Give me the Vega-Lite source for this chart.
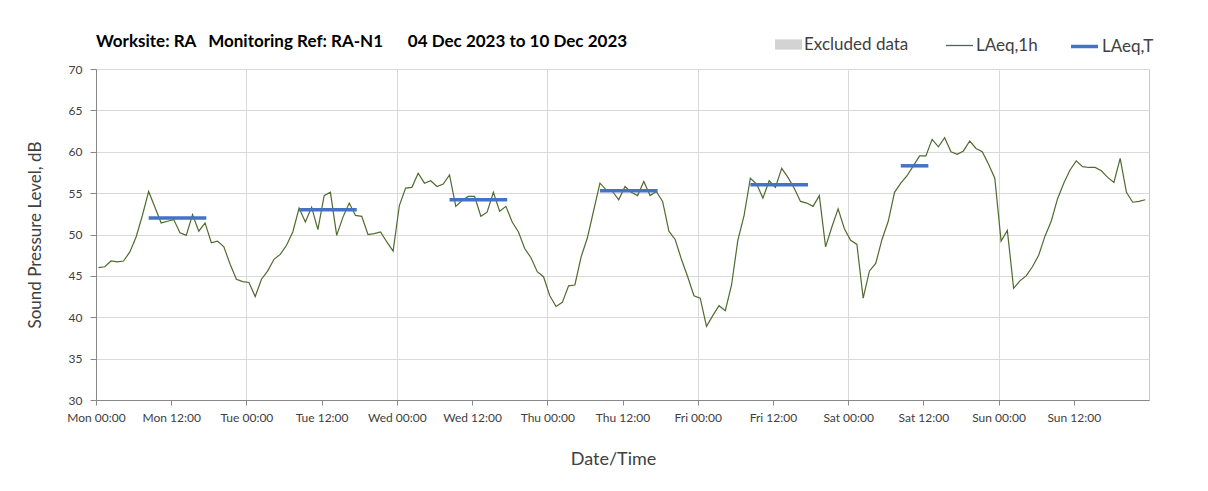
{
  "$schema": "https://vega.github.io/schema/vega-lite/v6.json",
  "width": 1053,
  "height": 331,
  "autosize": "none",
  "padding": {"left": 96, "top": 69, "right": 59, "bottom": 91},
  "background": "white",
  "config": {"font": "Lato", "view": {"stroke": "#c8c8c8"}},
  "title": {
    "text": "Worksite: RA\u00a0\u00a0\u00a0Monitoring Ref: RA-N1\u00a0\u00a0\u00a0\u00a0\u00a0 04 Dec 2023 to 10 Dec 2023",
    "anchor": "start",
    "frame": "group",
    "offset": 20,
    "dy": 40,
    "fontSize": 17,
    "fontWeight": "bold",
    "color": "#000000"
  },
  "datasets": {
    "hourly": [
      {"t":"2023-12-04T00:24","v":46.0},{"t":"2023-12-04T01:24","v":46.1},{"t":"2023-12-04T02:24","v":46.8},{"t":"2023-12-04T03:24","v":46.7},{"t":"2023-12-04T04:24","v":46.8},{"t":"2023-12-04T05:24","v":47.9},{"t":"2023-12-04T06:24","v":49.7},{"t":"2023-12-04T07:24","v":52.3},{"t":"2023-12-04T08:24","v":55.2},{"t":"2023-12-04T09:24","v":53.3},{"t":"2023-12-04T10:24","v":51.4},{"t":"2023-12-04T11:24","v":51.6},{"t":"2023-12-04T12:24","v":51.8},{"t":"2023-12-04T13:24","v":50.2},{"t":"2023-12-04T14:24","v":49.9},{"t":"2023-12-04T15:24","v":52.4},{"t":"2023-12-04T16:24","v":50.4},{"t":"2023-12-04T17:24","v":51.4},{"t":"2023-12-04T18:24","v":49.0},{"t":"2023-12-04T19:24","v":49.2},{"t":"2023-12-04T20:24","v":48.5},{"t":"2023-12-04T21:24","v":46.4},{"t":"2023-12-04T22:24","v":44.6},{"t":"2023-12-04T23:24","v":44.3},
      {"t":"2023-12-05T00:24","v":44.2},{"t":"2023-12-05T01:24","v":42.5},{"t":"2023-12-05T02:24","v":44.6},{"t":"2023-12-05T03:24","v":45.6},{"t":"2023-12-05T04:24","v":47.0},{"t":"2023-12-05T05:24","v":47.6},{"t":"2023-12-05T06:24","v":48.7},{"t":"2023-12-05T07:24","v":50.3},{"t":"2023-12-05T08:24","v":53.2},{"t":"2023-12-05T09:24","v":51.5},{"t":"2023-12-05T10:24","v":53.3},{"t":"2023-12-05T11:24","v":50.6},{"t":"2023-12-05T12:24","v":54.7},{"t":"2023-12-05T13:24","v":55.1},{"t":"2023-12-05T14:24","v":49.9},{"t":"2023-12-05T15:24","v":52.1},{"t":"2023-12-05T16:24","v":53.8},{"t":"2023-12-05T17:24","v":52.3},{"t":"2023-12-05T18:24","v":52.2},{"t":"2023-12-05T19:24","v":50.0},{"t":"2023-12-05T20:24","v":50.1},{"t":"2023-12-05T21:24","v":50.3},{"t":"2023-12-05T22:24","v":49.1},{"t":"2023-12-05T23:24","v":48.0},
      {"t":"2023-12-06T00:24","v":53.5},{"t":"2023-12-06T01:24","v":55.6},{"t":"2023-12-06T02:24","v":55.7},{"t":"2023-12-06T03:24","v":57.4},{"t":"2023-12-06T04:24","v":56.2},{"t":"2023-12-06T05:24","v":56.5},{"t":"2023-12-06T06:24","v":55.8},{"t":"2023-12-06T07:24","v":56.1},{"t":"2023-12-06T08:24","v":57.2},{"t":"2023-12-06T09:24","v":53.4},{"t":"2023-12-06T10:24","v":54.1},{"t":"2023-12-06T11:24","v":54.6},{"t":"2023-12-06T12:24","v":54.6},{"t":"2023-12-06T13:24","v":52.2},{"t":"2023-12-06T14:24","v":52.7},{"t":"2023-12-06T15:24","v":55.1},{"t":"2023-12-06T16:24","v":52.8},{"t":"2023-12-06T17:24","v":53.4},{"t":"2023-12-06T18:24","v":51.5},{"t":"2023-12-06T19:24","v":50.3},{"t":"2023-12-06T20:24","v":48.3},{"t":"2023-12-06T21:24","v":47.2},{"t":"2023-12-06T22:24","v":45.5},{"t":"2023-12-06T23:24","v":44.9},
      {"t":"2023-12-07T00:24","v":42.6},{"t":"2023-12-07T01:24","v":41.3},{"t":"2023-12-07T02:24","v":41.8},{"t":"2023-12-07T03:24","v":43.8},{"t":"2023-12-07T04:24","v":43.9},{"t":"2023-12-07T05:24","v":47.3},{"t":"2023-12-07T06:24","v":49.6},{"t":"2023-12-07T07:24","v":52.9},{"t":"2023-12-07T08:24","v":56.2},{"t":"2023-12-07T09:24","v":55.4},{"t":"2023-12-07T10:24","v":55.2},{"t":"2023-12-07T11:24","v":54.2},{"t":"2023-12-07T12:24","v":55.8},{"t":"2023-12-07T13:24","v":55.1},{"t":"2023-12-07T14:24","v":54.7},{"t":"2023-12-07T15:24","v":56.4},{"t":"2023-12-07T16:24","v":54.7},{"t":"2023-12-07T17:24","v":55.2},{"t":"2023-12-07T18:24","v":54.0},{"t":"2023-12-07T19:24","v":50.4},{"t":"2023-12-07T20:24","v":49.4},{"t":"2023-12-07T21:24","v":47.0},{"t":"2023-12-07T22:24","v":44.9},{"t":"2023-12-07T23:24","v":42.6},
      {"t":"2023-12-08T00:24","v":42.3},{"t":"2023-12-08T01:24","v":38.9},{"t":"2023-12-08T02:24","v":40.2},{"t":"2023-12-08T03:24","v":41.4},{"t":"2023-12-08T04:24","v":40.8},{"t":"2023-12-08T05:24","v":43.9},{"t":"2023-12-08T06:24","v":49.3},{"t":"2023-12-08T07:24","v":52.3},{"t":"2023-12-08T08:24","v":56.8},{"t":"2023-12-08T09:24","v":56.1},{"t":"2023-12-08T10:24","v":54.4},{"t":"2023-12-08T11:24","v":56.5},{"t":"2023-12-08T12:24","v":55.7},{"t":"2023-12-08T13:24","v":58.0},{"t":"2023-12-08T14:24","v":56.9},{"t":"2023-12-08T15:24","v":55.6},{"t":"2023-12-08T16:24","v":54.0},{"t":"2023-12-08T17:24","v":53.8},{"t":"2023-12-08T18:24","v":53.4},{"t":"2023-12-08T19:24","v":54.7},{"t":"2023-12-08T20:24","v":48.5},{"t":"2023-12-08T21:24","v":50.9},{"t":"2023-12-08T22:24","v":53.1},{"t":"2023-12-08T23:24","v":50.7},
      {"t":"2023-12-09T00:24","v":49.3},{"t":"2023-12-09T01:24","v":48.8},{"t":"2023-12-09T02:24","v":42.3},{"t":"2023-12-09T03:24","v":45.6},{"t":"2023-12-09T04:24","v":46.5},{"t":"2023-12-09T05:24","v":49.4},{"t":"2023-12-09T06:24","v":51.6},{"t":"2023-12-09T07:24","v":55.1},{"t":"2023-12-09T08:24","v":56.2},{"t":"2023-12-09T09:24","v":57.1},{"t":"2023-12-09T10:24","v":58.3},{"t":"2023-12-09T11:24","v":59.5},{"t":"2023-12-09T12:24","v":59.5},{"t":"2023-12-09T13:24","v":61.5},{"t":"2023-12-09T14:24","v":60.6},{"t":"2023-12-09T15:24","v":61.7},{"t":"2023-12-09T16:24","v":60.0},{"t":"2023-12-09T17:24","v":59.7},{"t":"2023-12-09T18:24","v":60.1},{"t":"2023-12-09T19:24","v":61.3},{"t":"2023-12-09T20:24","v":60.4},{"t":"2023-12-09T21:24","v":60.0},{"t":"2023-12-09T22:24","v":58.5},{"t":"2023-12-09T23:24","v":56.8},
      {"t":"2023-12-10T00:24","v":49.2},{"t":"2023-12-10T01:24","v":50.5},{"t":"2023-12-10T02:24","v":43.5},{"t":"2023-12-10T03:24","v":44.4},{"t":"2023-12-10T04:24","v":45.0},{"t":"2023-12-10T05:24","v":46.1},{"t":"2023-12-10T06:24","v":47.5},{"t":"2023-12-10T07:24","v":49.8},{"t":"2023-12-10T08:24","v":51.6},{"t":"2023-12-10T09:24","v":54.3},{"t":"2023-12-10T10:24","v":56.2},{"t":"2023-12-10T11:24","v":57.8},{"t":"2023-12-10T12:24","v":58.9},{"t":"2023-12-10T13:24","v":58.2},{"t":"2023-12-10T14:24","v":58.1},{"t":"2023-12-10T15:24","v":58.1},{"t":"2023-12-10T16:24","v":57.7},{"t":"2023-12-10T17:24","v":56.9},{"t":"2023-12-10T18:24","v":56.3},{"t":"2023-12-10T19:24","v":59.2},{"t":"2023-12-10T20:24","v":55.1},{"t":"2023-12-10T21:24","v":53.9},{"t":"2023-12-10T22:24","v":54.0},{"t":"2023-12-10T23:24","v":54.2}
    ],
    "period": [
      {"s":"2023-12-04T08:24","e":"2023-12-04T17:36","v":52.0},
      {"s":"2023-12-05T08:24","e":"2023-12-05T17:36","v":53.0},
      {"s":"2023-12-06T08:24","e":"2023-12-06T17:36","v":54.2},
      {"s":"2023-12-07T08:24","e":"2023-12-07T17:36","v":55.3},
      {"s":"2023-12-08T08:24","e":"2023-12-08T17:36","v":56.0},
      {"s":"2023-12-09T08:24","e":"2023-12-09T12:48","v":58.3}
    ],
    "excluded": []
  },
  "resolve": {"scale": {"color": "independent"}, "axis": {"x": "independent"}},
  "layer": [
    {
      "data": {"name": "excluded"},
      "mark": {"type": "bar"},
      "encoding": {
        "color": {
          "datum": "Excluded data",
          "scale": {"domain": ["Excluded data"], "range": ["#d3d3d3"]},
          "legend": {
            "orient": "none",
            "legendX": 679,
            "legendY": -38,
            "title": null,
            "labelFontSize": 17,
            "labelColor": "#404040",
            "symbolType": "M-1,-0.38H1V0.38H-1Z",
            "symbolSize": 729,
            "symbolStrokeWidth": 0,
            "symbolFillColor": "#d3d3d3",
            "labelOffset": 2
          }
        }
      }
    },
    {
      "data": {"name": "hourly"},
      "mark": {"type": "line", "strokeWidth": 1.2},
      "encoding": {
        "x": {
          "field": "t",
          "type": "temporal",
          "title": "Date/Time",
          "scale": {"domain": [{"year": 2023, "month": 12, "date": 4}, {"year": 2023, "month": 12, "date": 11}]},
          "axis": {
            "orient": "bottom",
            "values": [
              {"year": 2023, "month": 12, "date": 4, "hours": 0},
              {"year": 2023, "month": 12, "date": 4, "hours": 12},
              {"year": 2023, "month": 12, "date": 5, "hours": 0},
              {"year": 2023, "month": 12, "date": 5, "hours": 12},
              {"year": 2023, "month": 12, "date": 6, "hours": 0},
              {"year": 2023, "month": 12, "date": 6, "hours": 12},
              {"year": 2023, "month": 12, "date": 7, "hours": 0},
              {"year": 2023, "month": 12, "date": 7, "hours": 12},
              {"year": 2023, "month": 12, "date": 8, "hours": 0},
              {"year": 2023, "month": 12, "date": 8, "hours": 12},
              {"year": 2023, "month": 12, "date": 9, "hours": 0},
              {"year": 2023, "month": 12, "date": 9, "hours": 12},
              {"year": 2023, "month": 12, "date": 10, "hours": 0},
              {"year": 2023, "month": 12, "date": 10, "hours": 12}
            ],
            "format": "%a %H:%M",
            "grid": false,
            "labelFlush": false,
            "labelOverlap": false,
            "domainColor": "#888888",
            "tickColor": "#888888",
            "tickSize": 5,
            "labelFontSize": 12,
            "labelColor": "#404040",
            "labelPadding": 7,
            "titleFontSize": 18,
            "titleFontWeight": "normal",
            "titleColor": "#404040",
            "titlePadding": 27,
            "titleX": 517
          }
        },
        "y": {
          "field": "v",
          "type": "quantitative",
          "title": "Sound Pressure Level, dB",
          "scale": {"domain": [30, 70], "nice": false, "zero": false},
          "axis": {
            "values": [30, 35, 40, 45, 50, 55, 60, 65, 70],
            "gridColor": "#d9d9d9",
            "domainColor": "#888888",
            "tickColor": "#888888",
            "tickSize": 6,
            "labelFontSize": 12,
            "labelColor": "#404040",
            "labelPadding": 8,
            "titleFontSize": 17,
            "titleFontWeight": "normal",
            "titleColor": "#404040",
            "titlePadding": 24
          }
        },
        "color": {
          "datum": "LAeq,1h",
          "scale": {"domain": ["LAeq,1h"], "range": ["#4f6b2f"]},
          "legend": {
            "orient": "none",
            "legendX": 849,
            "legendY": -38,
            "title": null,
            "labelFontSize": 17,
            "labelColor": "#404040",
            "symbolType": "stroke",
            "symbolSize": 729,
            "symbolStrokeWidth": 1.3,
            "labelOffset": 2
          }
        }
      }
    },
    {
      "data": {"name": "period"},
      "mark": {"type": "rule", "strokeWidth": 3.5},
      "encoding": {
        "x": {
          "field": "s",
          "type": "temporal",
          "axis": {
            "orient": "bottom",
            "values": [
              {"year": 2023, "month": 12, "date": 5},
              {"year": 2023, "month": 12, "date": 6},
              {"year": 2023, "month": 12, "date": 7},
              {"year": 2023, "month": 12, "date": 8},
              {"year": 2023, "month": 12, "date": 9},
              {"year": 2023, "month": 12, "date": 10}
            ],
            "grid": true,
            "gridColor": "#d9d9d9",
            "labels": false,
            "ticks": false,
            "domain": false,
            "title": null
          }
        },
        "x2": {"field": "e"},
        "y": {"field": "v", "type": "quantitative"},
        "color": {
          "datum": "LAeq,T",
          "scale": {"domain": ["LAeq,T"], "range": ["#4472c4"]},
          "legend": {
            "orient": "none",
            "legendX": 973,
            "legendY": -38,
            "title": null,
            "labelFontSize": 17,
            "labelColor": "#404040",
            "symbolType": "stroke",
            "symbolSize": 729,
            "symbolStrokeWidth": 3.5,
            "labelOffset": 2
          }
        }
      }
    }
  ]
}
